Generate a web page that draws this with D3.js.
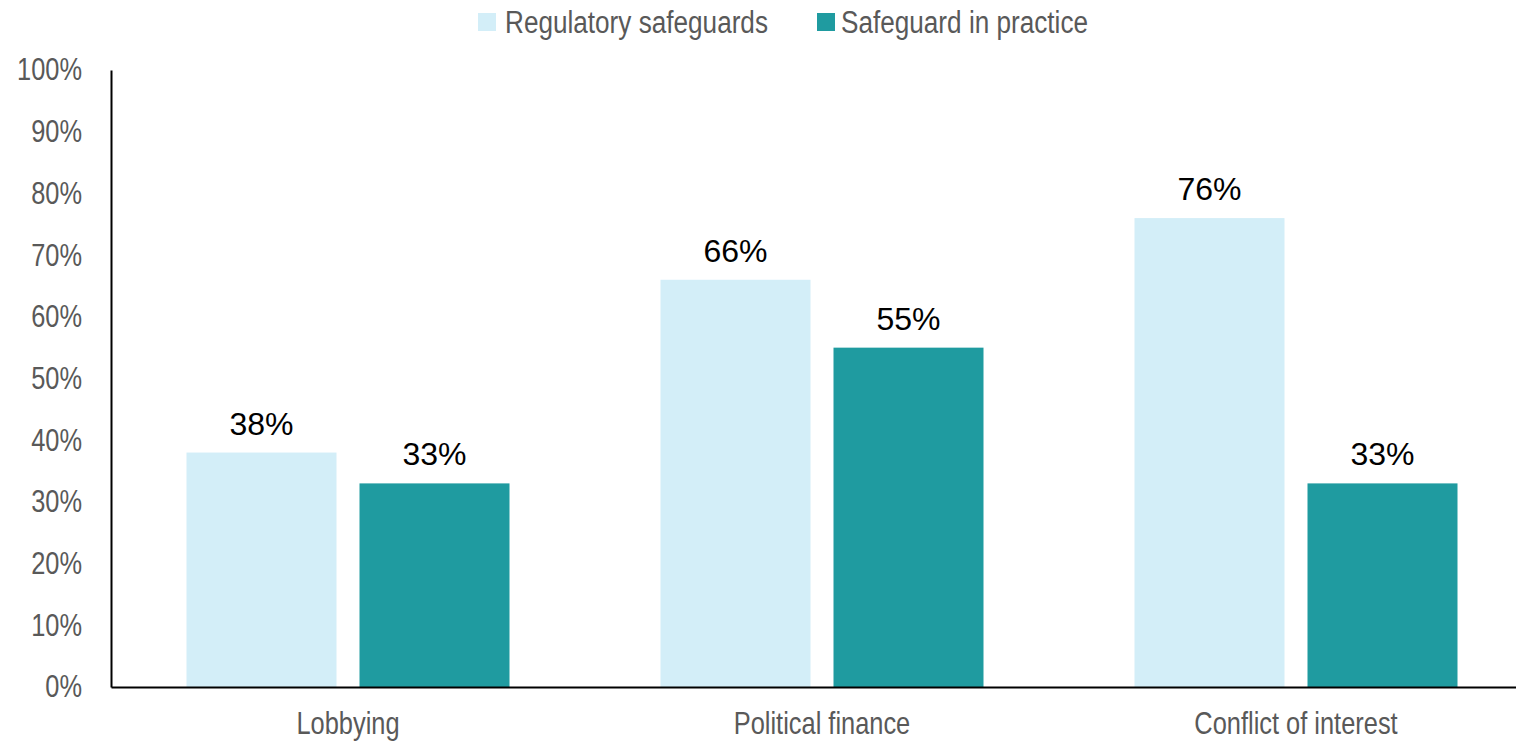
<!DOCTYPE html>
<html>
<head>
<meta charset="utf-8">
<script src="https://cdn.jsdelivr.net/npm/d3@7"></script>
<style>
html,body{margin:0;padding:0;background:#fff;overflow:hidden;}
svg{display:block;}
</style>
</head>
<body>
<svg id="chart" width="1516" height="742"></svg>
<script>
const categories = ["Lobbying", "Political finance", "Conflict of interest"];
const seriesNames = ["Regulatory safeguards", "Safeguard in practice"];
const regulatory = [38, 66, 76];
const practice = [33, 55, 33];
const yTicks = [0, 10, 20, 30, 40, 50, 60, 70, 80, 90, 100];
const colors = ["#D3EEF8", "#1F9BA0"];

(function () {
const svg = d3.select("#chart");
const font = "'Liberation Sans', Arial, sans-serif";
const sx = 0.82; // horizontal condensing of grey text
const sxLegend = 0.83;

const mLeft = 111, mRight = 1533, mTop = 70, mBottom = 687;
const x0 = d3.scaleBand().domain(categories).range([mLeft, mRight]).paddingInner(0).paddingOuter(0);
const groupPad = (x0.bandwidth() - 323) / 2;
const x1 = d3.scaleBand().domain(seriesNames).range([groupPad, groupPad + 323]).paddingInner(23/173).paddingOuter(0);
const y = d3.scaleLinear().domain([0, 100]).range([mBottom, mTop]);

const series = [regulatory, practice];

categories.forEach((c, i) => {
  seriesNames.forEach((s, j) => {
    const v = series[j][i];
    svg.append("rect")
      .attr("x", x0(c) + x1(s))
      .attr("y", y(v))
      .attr("width", x1.bandwidth())
      .attr("height", y(0) - y(v))
      .attr("fill", colors[j]);
    svg.append("text")
      .attr("x", x0(c) + x1(s) + x1.bandwidth() / 2)
      .attr("y", y(v) - 18)
      .attr("text-anchor", "middle")
      .attr("font-family", font)
      .attr("font-size", 32)
      .attr("fill", "#000")
      .text(v + "%");
  });
});

const yAxis = d3.axisLeft(y).tickValues(yTicks).tickFormat(d => d + "%").tickSize(0).tickPadding(29);
const gy = svg.append("g").attr("transform", `translate(${mLeft},0)`).call(yAxis);
gy.select(".domain").attr("stroke", "#000").attr("stroke-width", 2);
gy.selectAll("text")
  .attr("font-family", font)
  .attr("font-size", 31)
  .attr("fill", "#595959")
  .attr("x", -29 / sx)
  .attr("transform", `scale(${sx},1)`);

const xAxis = d3.axisBottom(x0).tickSize(0).tickPadding(25);
const gx = svg.append("g").attr("transform", `translate(0,${mBottom})`).call(xAxis);
gx.select(".domain").attr("stroke", "#000").attr("stroke-width", 2);
gx.selectAll("text")
  .attr("font-family", font)
  .attr("font-size", 31)
  .attr("fill", "#595959")
  .attr("transform", `scale(${sx},1)`);

const legendItems = [{x: 478, tx: 505}, {x: 817, tx: 841}];
seriesNames.forEach((s, j) => {
  svg.append("rect")
    .attr("x", legendItems[j].x).attr("y", 13)
    .attr("width", 18).attr("height", 18)
    .attr("fill", colors[j]);
  svg.append("text")
    .attr("transform", `translate(${legendItems[j].tx},33) scale(${sxLegend},1)`)
    .attr("font-family", font)
    .attr("font-size", 31.5)
    .attr("fill", "#595959")
    .text(s);
});
})();
</script>
</body>
</html>
